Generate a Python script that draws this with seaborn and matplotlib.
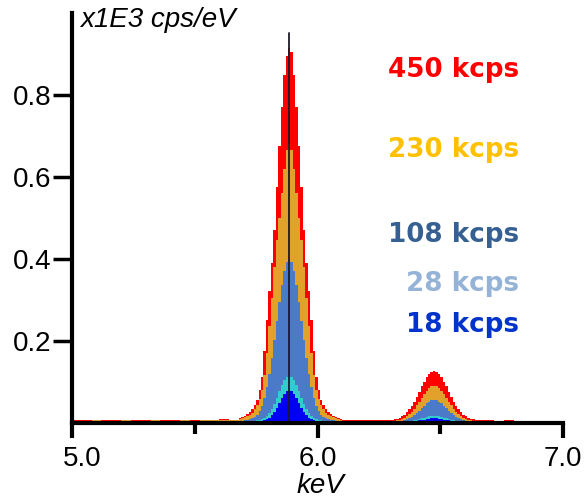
import numpy as np
import pandas as pd
import matplotlib.pyplot as plt
import matplotlib.transforms as mtransforms
import seaborn as sns

# ---- DATA (x1E3 cps/eV per channel) ----
# channels: coarse background, 10 eV across Mn Ka, coarse gap, 10 eV across Mn Kb, coarse tail
edges = np.round(np.concatenate([
    np.linspace(5.00, 5.68, 18)[:-1],
    np.linspace(5.68, 6.10, 43)[:-1],
    np.linspace(6.10, 6.28, 7)[:-1],
    np.linspace(6.28, 6.68, 41)[:-1],
    np.linspace(6.68, 7.00, 9),
]), 3)
centers = (edges[:-1] + edges[1:]) / 2

spec_450 = [
    # 5.00-5.68
    0.006, 0.007, 0.006, 0.006, 0.007, 0.006, 0.006, 0.007, 0.006, 0.006,
    0.007, 0.006, 0.007, 0.007, 0.007, 0.008, 0.007,
    # 5.68-6.10
    0.011, 0.014, 0.017, 0.021, 0.026, 0.034, 0.043, 0.055, 0.080, 0.112,
    0.175, 0.250, 0.320, 0.390, 0.470, 0.575, 0.675, 0.770, 0.848, 0.895,
    0.915,
    0.905, 0.848, 0.770, 0.675, 0.575, 0.470, 0.390, 0.320, 0.250, 0.175,
    0.112, 0.080, 0.055, 0.043, 0.034, 0.026, 0.021, 0.017, 0.014, 0.011, 0.009,
    # 6.10-6.28
    0.007, 0.006, 0.006, 0.005, 0.006, 0.006,
    # 6.28-6.68
    0.006, 0.006, 0.007, 0.008, 0.009, 0.012, 0.015, 0.019, 0.025, 0.032,
    0.041, 0.051, 0.063, 0.075, 0.088, 0.100, 0.110, 0.118, 0.123,
    0.125,
    0.123, 0.118, 0.110, 0.100, 0.088, 0.075, 0.063, 0.051, 0.041, 0.032,
    0.025, 0.019, 0.015, 0.012, 0.009, 0.008, 0.007, 0.006, 0.006, 0.005,
    # 6.68-7.00
    0.005, 0.004, 0.005, 0.004, 0.004, 0.004, 0.004, 0.003,
]
spec_230 = [
    0.004, 0.004, 0.005, 0.004, 0.004, 0.005, 0.004, 0.004, 0.005, 0.004,
    0.004, 0.005, 0.004, 0.005, 0.005, 0.005, 0.005,
    0.008, 0.010, 0.0125, 0.015, 0.019, 0.024, 0.032, 0.042, 0.058, 0.080,
    0.115, 0.170, 0.235, 0.305, 0.380, 0.445, 0.500, 0.560, 0.620, 0.665,
    0.680,
    0.665, 0.620, 0.560, 0.500, 0.445, 0.380, 0.305, 0.235, 0.170, 0.115,
    0.080, 0.058, 0.042, 0.032, 0.024, 0.019, 0.015, 0.0125, 0.010, 0.008, 0.006,
    0.004, 0.004, 0.003, 0.003, 0.003, 0.003,
    0.003, 0.003, 0.003, 0.004, 0.005, 0.0064, 0.008, 0.011, 0.015, 0.020,
    0.026, 0.033, 0.042, 0.051, 0.061, 0.070, 0.078, 0.084, 0.089,
    0.090,
    0.089, 0.084, 0.078, 0.070, 0.061, 0.051, 0.042, 0.033, 0.026, 0.020,
    0.015, 0.011, 0.008, 0.0064, 0.005, 0.004, 0.003, 0.003, 0.003, 0.003,
    0.003, 0.003, 0.002, 0.003, 0.002, 0.002, 0.002, 0.002,
]
spec_108 = [
    0.003, 0.003, 0.002, 0.003, 0.003, 0.003, 0.002, 0.003, 0.003, 0.003,
    0.003, 0.002, 0.003, 0.003, 0.003, 0.003, 0.003,
    0.003, 0.004, 0.005, 0.006, 0.008, 0.011, 0.014, 0.019, 0.027, 0.041,
    0.060, 0.086, 0.118, 0.157, 0.201, 0.247, 0.294, 0.336, 0.370, 0.391,
    0.399,
    0.391, 0.370, 0.336, 0.294, 0.247, 0.201, 0.157, 0.118, 0.086, 0.060,
    0.041, 0.027, 0.019, 0.014, 0.011, 0.008, 0.006, 0.005, 0.004, 0.003, 0.003,
    0.003, 0.002, 0.002, 0.002, 0.002, 0.002,
    0.002, 0.002, 0.002, 0.003, 0.003, 0.0034, 0.0043, 0.0057, 0.0077, 0.010,
    0.014, 0.018, 0.023, 0.029, 0.035, 0.041, 0.047, 0.051, 0.054,
    0.055,
    0.054, 0.051, 0.047, 0.041, 0.035, 0.029, 0.023, 0.018, 0.014, 0.010,
    0.0077, 0.0057, 0.0043, 0.0034, 0.003, 0.003, 0.002, 0.002, 0.002, 0.002,
    0.002, 0.002, 0.002, 0.002, 0.002, 0.002, 0.002, 0.002,
]
spec_28 = [
    0.002, 0.002, 0.001, 0.002, 0.002, 0.002, 0.001, 0.002, 0.002, 0.002,
    0.002, 0.001, 0.002, 0.002, 0.002, 0.002, 0.002,
    0.002, 0.002, 0.002, 0.002, 0.0025, 0.003, 0.004, 0.005, 0.006, 0.008,
    0.011, 0.016, 0.023, 0.034, 0.046, 0.061, 0.076, 0.091, 0.103, 0.111,
    0.114,
    0.111, 0.103, 0.091, 0.076, 0.061, 0.046, 0.034, 0.023, 0.016, 0.011,
    0.008, 0.006, 0.005, 0.004, 0.003, 0.0025, 0.002, 0.002, 0.001, 0.001, 0.001,
    0.001, 0.001, 0.001, 0.001, 0.001, 0.001,
    0.001, 0.001, 0.001, 0.001, 0.001, 0.0013, 0.0015, 0.0018, 0.0023, 0.0030,
    0.0040, 0.0052, 0.0066, 0.0083, 0.0101, 0.0118, 0.0135, 0.0148, 0.0157,
    0.016,
    0.0157, 0.0148, 0.0135, 0.0118, 0.0101, 0.0083, 0.0066, 0.0052, 0.0040, 0.0030,
    0.0023, 0.0018, 0.0015, 0.0013, 0.001, 0.001, 0.001, 0.001, 0.001, 0.001,
    0.001, 0.001, 0.001, 0.001, 0.001, 0.001, 0.001, 0.001,
]
spec_18 = [
    0.001, 0.001, 0.001, 0.001, 0.001, 0.001, 0.001, 0.001, 0.001, 0.001,
    0.001, 0.001, 0.001, 0.001, 0.001, 0.001, 0.001,
    0.001, 0.001, 0.001, 0.001, 0.001, 0.001, 0.0015, 0.002, 0.003, 0.004,
    0.006, 0.008, 0.012, 0.018, 0.026, 0.036, 0.048, 0.059, 0.069, 0.076,
    0.078,
    0.076, 0.069, 0.059, 0.048, 0.036, 0.026, 0.018, 0.012, 0.008, 0.006,
    0.004, 0.003, 0.002, 0.0015, 0.001, 0.001, 0.001, 0.001, 0.001, 0.001, 0.001,
    0.001, 0.001, 0.001, 0.001, 0.001, 0.001,
    0.001, 0.001, 0.001, 0.001, 0.001, 0.001, 0.001, 0.001, 0.0015, 0.0019,
    0.0024, 0.0031, 0.0039, 0.0049, 0.0061, 0.0073, 0.0083, 0.0093, 0.0098,
    0.010,
    0.0098, 0.0093, 0.0083, 0.0073, 0.0061, 0.0049, 0.0039, 0.0031, 0.0024, 0.0019,
    0.0015, 0.001, 0.001, 0.001, 0.001, 0.001, 0.001, 0.001, 0.001, 0.001,
    0.001, 0.001, 0.001, 0.001, 0.001, 0.001, 0.001, 0.001,
]

spectra = [spec_450, spec_230, spec_108, spec_28, spec_18]
labels = ['450 kcps', '230 kcps', '108 kcps', '28 kcps', '18 kcps']
fill_colors = ['#FF0000', '#E2A12B', '#4A7AC8', '#33CCCC', '#0000F5']
text_colors = ['#FF0000', '#FFC000', '#376092', '#95B3D7', '#0033CC']
label_y = [0.844, 0.648, 0.442, 0.322, 0.221]

x_ticks = [5.0, 6.0, 7.0]
x_minor = [5.5, 6.5]
y_ticks = [0.2, 0.4, 0.6, 0.8]
peak_marker = 5.885

for s in spectra:
    assert len(s) == len(centers), (len(s), len(centers))

# ---- PLOT ----
sns.set_style("white")
plt.rcParams['font.family'] = ['Liberation Sans', 'DejaVu Sans']
plt.rcParams['text.color'] = 'black'
plt.rcParams['xtick.color'] = 'black'
plt.rcParams['ytick.color'] = 'black'

fig = plt.figure(figsize=(5.87, 5.0), dpi=100)
ax = fig.add_axes([72 / 587, 77.5 / 500, (563 - 72) / 587, (422.5 - 13) / 500])

for vals, col in zip(spectra, fill_colors):
    df = pd.DataFrame({'energy': centers, 'counts': vals})
    sns.histplot(data=df, x='energy', weights='counts', bins=edges.tolist(),
                 element='step', fill=True, color=col, alpha=1,
                 linewidth=0, ax=ax)

ax.plot([peak_marker, peak_marker], [0, 0.95], color='#1a1a2a', lw=1.3)

for lab, col, yy in zip(labels, text_colors, label_y):
    ax.text(6.82, yy, lab, color=col, ha='right', va='baseline',
            fontsize=18.8, fontweight='bold', family=['DejaVu Sans'])

ax.set_xlim(5.0, 7.0)
ax.set_ylim(0, 1.0)
ax.set_xticks(x_ticks)
ax.set_xticklabels([f'{v:.1f}' for v in x_ticks])
ax.set_xticks(x_minor, minor=True)
ax.set_yticks(y_ticks)
ax.set_yticklabels([f'{v:.1f}' for v in y_ticks])
ax.set_xlabel('')
ax.set_ylabel('')

sns.despine(ax=ax)
for s in ['left', 'bottom']:
    ax.spines[s].set_linewidth(3)
    ax.spines[s].set_color('black')

ax.tick_params(axis='x', which='major', direction='out', length=11, width=3,
               labelsize=20, pad=6, bottom=True)
ax.tick_params(axis='x', which='minor', direction='out', length=8, width=3,
               bottom=True)
ax.tick_params(axis='y', which='major', direction='out', length=14, width=2.5,
               labelsize=20, pad=0.5, left=True)

# first x label sits a little right of its tick in the reference
first = ax.get_xticklabels()[0]
first.set_transform(first.get_transform() +
                    mtransforms.ScaledTranslation(10 / 100, 0, fig.dpi_scale_trans))

fig.text(80 / 587, 1 - 27 / 500, 'x1E3 cps/eV', fontsize=20, style='italic',
         va='baseline', ha='left')
fig.text(320 / 587, 1 - 493 / 500, 'keV', fontsize=20, style='italic',
         va='baseline', ha='center')

fig.savefig('out.png', dpi=100)
